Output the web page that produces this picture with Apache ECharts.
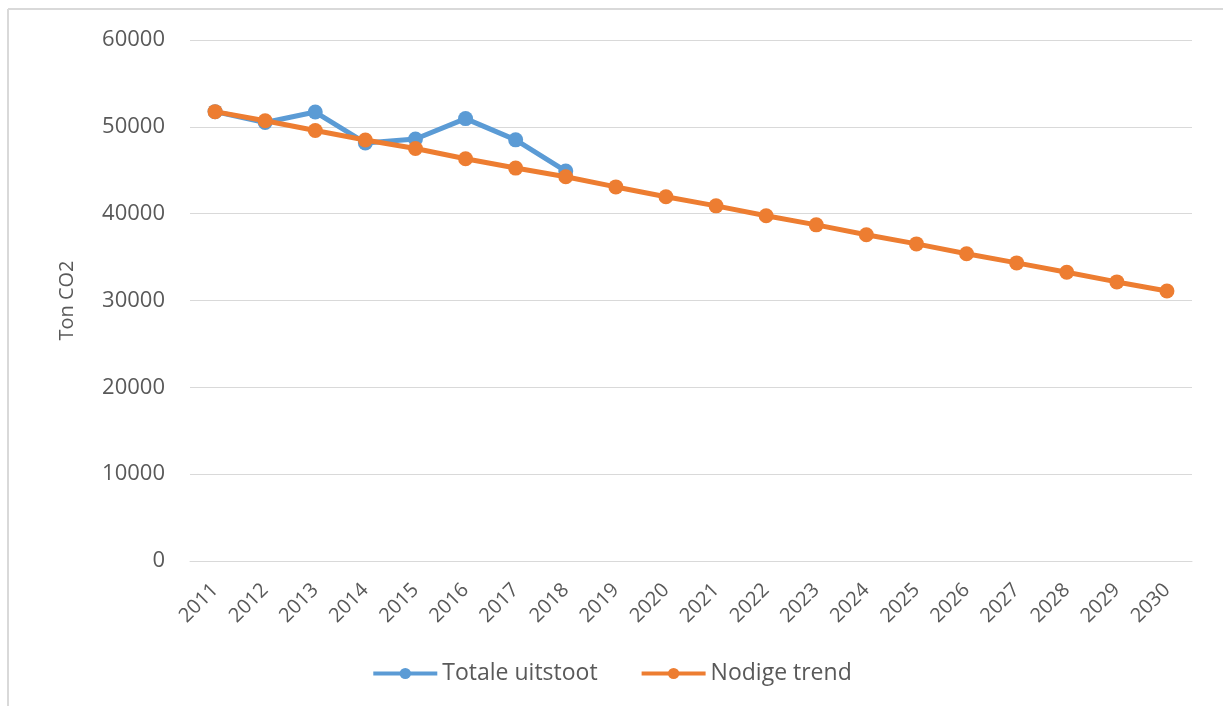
<!DOCTYPE html>
<html>
<head>
<meta charset="utf-8">
<script src="https://cdn.jsdelivr.net/npm/echarts@6/dist/echarts.min.js"></script>
<style>
html,body{margin:0;padding:0;background:#fff;}
#chart{width:1223px;height:706px;}
</style>
</head>
<body>
<div id="chart"></div>
<script>
const years = ['2011','2012','2013','2014','2015','2016','2017','2018','2019','2020','2021','2022','2023','2024','2025','2026','2027','2028','2029','2030'];
const totaleUitstoot = [51750, 50500, 51700, 48150, 48600, 50950, 48500, 44900];
const nodigeTrend = [51750, 50700, 49580, 48480, 47500, 46320, 45250, 44250, 43080, 41950, 40900, 39760, 38710, 37580, 36520, 35380, 34330, 33260, 32140, 31100];
const yTicks = [0, 10000, 20000, 30000, 40000, 50000, 60000];

const chart = echarts.init(document.getElementById('chart'));
const font = '"Open Sans", "Liberation Sans", sans-serif';
chart.setOption({
  animation: false,
  textStyle: {fontFamily: font},
  graphic: [
    {type: 'line', shape: {x1: 8, y1: 9, x2: 1223, y2: 9}, style: {stroke: '#d9d9d9', lineWidth: 2}},
    {type: 'line', shape: {x1: 8, y1: 9, x2: 8, y2: 706}, style: {stroke: '#d9d9d9', lineWidth: 2}}
  ],
  grid: {left: 190, right: 31, top: 40, bottom: 145},
  legend: {
    top: 657,
    left: 'center',
    itemWidth: 64,
    itemHeight: 14,
    itemGap: 42,
    lineStyle: {width: 4},
    textStyle: {fontSize: 23, color: '#595959', fontFamily: font},
    data: ['Totale uitstoot', 'Nodige trend']
  },
  xAxis: {
    type: 'category',
    data: years,
    boundaryGap: true,
    axisLine: {show: true, lineStyle: {color: '#d9d9d9', width: 1}},
    axisTick: {show: false},
    axisLabel: {rotate: 45, fontSize: 20, color: '#595959', margin: 26, interval: 0, fontFamily: font}
  },
  yAxis: {
    type: 'value',
    min: yTicks[0],
    max: yTicks[yTicks.length - 1],
    interval: 10000,
    name: 'Ton CO2',
    nameLocation: 'middle',
    nameGap: 113,
    nameRotate: 90,
    nameTextStyle: {fontSize: 20, color: '#595959', fontFamily: font},
    axisLine: {show: false},
    axisTick: {show: false},
    axisLabel: {fontSize: 22, color: '#595959', margin: 25, fontFamily: font, formatter: v => String(v)},
    splitLine: {lineStyle: {color: '#d9d9d9', width: 1}}
  },
  series: [
    {
      name: 'Totale uitstoot',
      type: 'line',
      data: totaleUitstoot,
      symbol: 'circle',
      symbolSize: 15,
      lineStyle: {width: 5, color: '#5b9bd5'},
      itemStyle: {color: '#5b9bd5'},
      z: 2
    },
    {
      name: 'Nodige trend',
      type: 'line',
      data: nodigeTrend,
      symbol: 'circle',
      symbolSize: 15,
      lineStyle: {width: 5, color: '#ed7d31'},
      itemStyle: {color: '#ed7d31'},
      z: 3
    }
  ]
});
</script>
</body>
</html>
